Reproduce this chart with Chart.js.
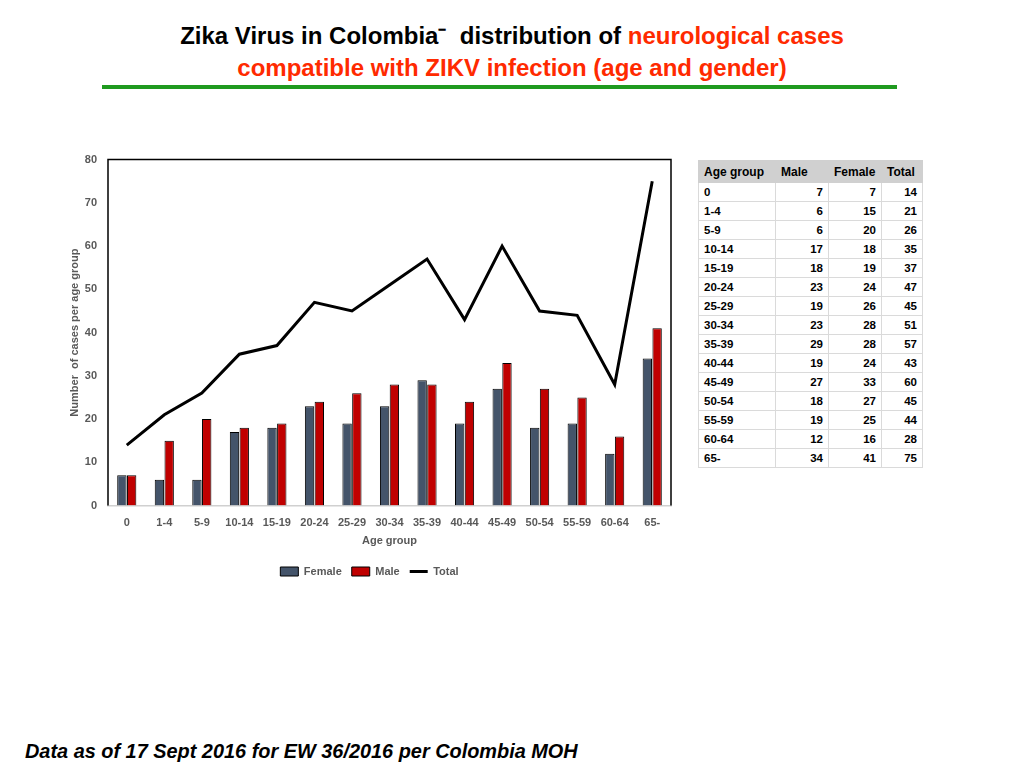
<!DOCTYPE html>
<html>
<head>
<meta charset="utf-8">
<script src="https://cdn.jsdelivr.net/npm/chart.js@4"></script>
<style>
  body { margin: 0; width: 1024px; height: 768px; background: #fff; position: relative; overflow: hidden; font-family: "Liberation Sans", Arial, sans-serif; }
  #title { position: absolute; left: 0; top: 20px; width: 1024px; text-align: center; font-family: "Liberation Sans Narrow", "Liberation Sans", Arial, sans-serif; font-weight: bold; font-size: 24px; line-height: 32px; color: #000; }
  #title .red { color: #ff2a00; }
  #rule { position: absolute; left: 102px; top: 85px; width: 795px; height: 4px; background: #1f9a1f; }
  #wrap { position: absolute; left: 68px; top: 150px; width: 611px; height: 445px; }
  #tbl { position: absolute; left: 698px; top: 160px; border-collapse: collapse; font-size: 11.5px; font-weight: bold; color: #000; }
  #tbl th { background: #d0d0d0; height: 21px; text-align: left; padding: 0 5px; border: 1px solid #d0d0d0; font-size: 12px; }
  #tbl td { height: 18px; padding: 0 5px; border: 1px solid #dadada; text-align: right; }
  #tbl td:first-child { text-align: left; }
  #footer { position: absolute; left: 25px; top: 740px; font-weight: bold; font-style: italic; font-size: 19.9px; color: #000; }
</style>
</head>
<body>
<div id="title">Zika Virus in Colombia&#8315;&nbsp; distribution of <span class="red">neurological cases</span><br><span class="red">compatible with ZIKV infection (age and gender)</span></div>
<div id="rule"></div>
<div id="wrap"><canvas id="chart"></canvas></div>
<table id="tbl"></table>
<div id="footer">Data as of 17 Sept 2016 for EW 36/2016 per Colombia MOH</div>
<script>
//---chart data---
const ageGroups = ['0', '1-4', '5-9', '10-14', '15-19', '20-24', '25-29', '30-34', '35-39', '40-44', '45-49', '50-54', '55-59', '60-64', '65-'];
const female = [7, 6, 6, 17, 18, 23, 19, 23, 29, 19, 27, 18, 19, 12, 34];   // dark bars
const male = [7, 15, 20, 18, 19, 24, 26, 28, 28, 24, 33, 27, 25, 16, 41];    // red bars
const total = [14, 21, 26, 35, 37, 47, 45, 51, 57, 43, 60, 45, 44, 28, 75];
const yTicks = [0, 10, 20, 30, 40, 50, 60, 70, 80];

// the slide's table has the columns labelled the other way round from the chart legend
const tableHeaders = ['Age group', 'Male', 'Female', 'Total'];
const tableMale = female;
const tableFemale = male;

//-------------------Table-------------------
function buildTable(){
  const tbl = document.getElementById('tbl');
  let html = '<tr>' + tableHeaders.map(h => '<th>' + h + '</th>').join('') + '</tr>';
  for (var i = 0; i < ageGroups.length; i++){
    html += '<tr><td style="width:66px">' + ageGroups[i] + '</td><td style="width:42px">' + tableMale[i] +
      '</td><td style="width:42px">' + tableFemale[i] + '</td><td style="width:30px">' + total[i] + '</td></tr>';
  }
  tbl.innerHTML = html;
}

//-------------------Chart-------------------
// black frame on top/left/right of the plot area, bottom axis stays grey
const frame = {
  id: 'frame',
  afterDatasetsDraw(chart){
    const a = chart.chartArea, ctx = chart.ctx;
    ctx.save();
    ctx.strokeStyle = '#000';
    ctx.lineWidth = 1.5;
    ctx.beginPath();
    ctx.moveTo(a.left, a.bottom);
    ctx.lineTo(a.left, a.top);
    ctx.lineTo(a.right, a.top);
    ctx.lineTo(a.right, a.bottom);
    ctx.stroke();
    ctx.restore();
  }
};

const grey = '#595959';
const tickFont = { family: 'Liberation Sans, Arial, sans-serif', size: 11, weight: 'bold' };

buildTable();

new Chart(document.getElementById('chart'), {
  type: 'bar',
  data: {
    labels: ageGroups,
    datasets: [
      { label: 'Female', data: female, backgroundColor: '#44546a', borderColor: '#000', borderWidth: 1, order: 1,
        categoryPercentage: 0.52, barPercentage: 0.96 },
      { label: 'Male', data: male, backgroundColor: '#c00000', borderColor: '#000', borderWidth: 1, order: 1,
        categoryPercentage: 0.52, barPercentage: 0.96 },
      { type: 'line', label: 'Total', data: total, borderColor: '#000', backgroundColor: '#000', borderWidth: 3,
        pointRadius: 0, tension: 0, order: 0 }
    ]
  },
  options: {
    responsive: true,
    maintainAspectRatio: false,
    animation: false,
    layout: { padding: { top: 0, right: 8, left: 0, bottom: 8 } },
    plugins: {
      tooltip: { enabled: false },
      legend: {
        position: 'bottom',
        labels: {
          color: grey,
          font: tickFont,
          usePointStyle: true,
          pointStyleWidth: 18,
          boxHeight: 9,
          padding: 10,
          sort: (a, b) => a.datasetIndex - b.datasetIndex,
          generateLabels(chart){
            const items = Chart.defaults.plugins.legend.labels.generateLabels(chart);
            items.forEach(it => {
              if (it.text === 'Total'){ it.pointStyle = 'line'; it.lineWidth = 3; it.strokeStyle = '#000'; }
              else { it.pointStyle = 'rect'; it.lineWidth = 1; }
            });
            return items;
          }
        }
      }
    },
    scales: {
      x: {
        grid: { display: false },
        border: { color: '#d0d0d0', width: 1.5 },
        ticks: { color: grey, font: tickFont, maxRotation: 0, autoSkip: false },
        title: { display: true, text: 'Age group', color: grey, font: tickFont, padding: { top: 2, bottom: 8 } }
      },
      y: {
        min: 0, max: 80,
        afterBuildTicks(axis){ axis.ticks = yTicks.map(v => ({ value: v })); },
        afterFit(axis){ axis.width = 40; },
        grid: { display: false },
        border: { display: false },
        ticks: { color: grey, font: tickFont, padding: 3 },
        title: { display: true, text: 'Number  of cases per age group', color: grey, font: tickFont, padding: 0 }
      }
    }
  },
  plugins: [frame]
});
</script>
</body>
</html>
